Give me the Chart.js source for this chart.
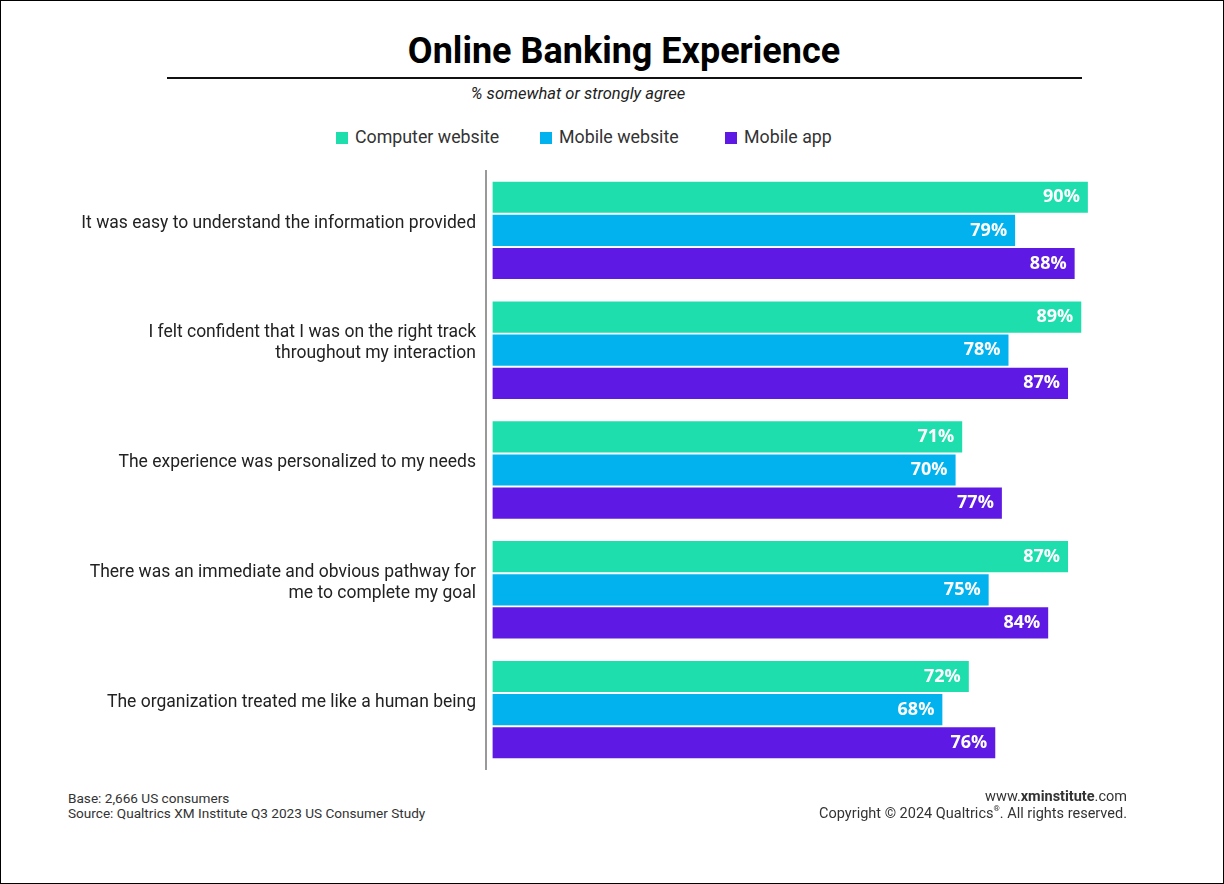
<!DOCTYPE html>
<html>
<head>
<meta charset="utf-8">
<script src="https://cdn.jsdelivr.net/npm/chart.js@4.4.1/dist/chart.umd.min.js"></script>
<style>
  html,body{margin:0;padding:0;background:#fff;}
  body{width:1224px;height:884px;position:relative;overflow:hidden;font-family:Roboto,"Noto Sans",sans-serif;color:#222;}
  .frame{position:absolute;left:0;top:0;width:1222px;height:882px;border:1px solid #000;}
  .title{position:absolute;left:0;width:1248px;top:30px;text-align:center;font-family:Roboto,sans-serif;font-weight:700;font-size:36px;color:#000;}
  .rule{position:absolute;left:167px;top:77px;width:915px;height:2px;background:#111;}
  .sub{position:absolute;left:0;width:1156px;top:84px;text-align:center;font-style:italic;font-size:16.5px;color:#222;}
  .legend{position:absolute;top:126px;left:0;width:1224px;height:24px;font-size:17.8px;color:#333;}
  .legend span{position:absolute;top:0;white-space:nowrap;}
  .legend i{display:inline-block;width:12px;height:12px;margin-right:7px;vertical-align:-1px;}
  .foot{position:absolute;font-size:13.6px;line-height:15px;color:#333;}
  .foot sup{font-size:8px;line-height:0;position:relative;top:-1px;}
  #wrap{position:absolute;left:0;top:150px;width:1224px;height:640px;}
</style>
</head>
<body>
<div class="frame"></div>
<div class="title">Online Banking Experience</div>
<div class="rule"></div>
<div class="sub">% somewhat or strongly agree</div>
<div class="legend" id="legend"></div>
<div id="wrap"><canvas id="chart"></canvas></div>
<div class="foot" style="left:68px;top:791px;">Base: 2,666 US consumers<br>Source: Qualtrics XM Institute Q3 2023 US Consumer Study</div>
<div class="foot" style="right:97px;top:788px;text-align:right;font-size:14.5px;line-height:17px;">www.<b>xminstitute</b>.com<br>Copyright © 2024 Qualtrics<sup>®</sup>. All rights reserved.</div>
<script>
const categories = [
  "It was easy to understand the information provided",
  ["I felt confident that I was on the right track", "throughout my interaction"],
  "The experience was personalized to my needs",
  ["There was an immediate and obvious pathway for", "me to complete my goal"],
  "The organization treated me like a human being"
];
const seriesNames = ["Computer website", "Mobile website", "Mobile app"];
const seriesColors = ["#1fdead", "#02b2ee", "#5e1ae4"];
const computerWebsite = [90, 89, 71, 87, 72];
const mobileWebsite = [79, 78, 70, 75, 68];
const mobileApp = [88, 87, 77, 84, 76];
const seriesValues = [computerWebsite, mobileWebsite, mobileApp];

// legend in html, spaced like the reference
const legendX = [336, 540, 725];
const legend = document.getElementById("legend");
seriesNames.forEach((n, i) => {
  const s = document.createElement("span");
  s.style.left = legendX[i] + "px";
  s.innerHTML = `<i style="background:${seriesColors[i]}"></i>${n}`;
  legend.appendChild(s);
});

const valueLabels = {
  id: "valueLabels",
  afterDatasetsDraw(chart){
    const ctx = chart.ctx;
    ctx.save();
    ctx.font = "bold 18px 'Open Sans', sans-serif";
    ctx.fillStyle = "#fff";
    ctx.textAlign = "right";
    ctx.textBaseline = "middle";
    chart.data.datasets.forEach((ds, di) => {
      chart.getDatasetMeta(di).data.forEach((bar, i) => {
        ctx.fillText(ds.data[i] + "%", bar.x - 8, bar.y);
      });
    });
    ctx.restore();
  }
};

new Chart(document.getElementById("chart"), {
  type: "bar",
  data: {
    labels: categories,
    datasets: seriesValues.map((v, i) => ({
      label: seriesNames[i],
      data: v,
      backgroundColor: seriesColors[i],
      borderWidth: 0,
      categoryPercentage: 0.83,
      barPercentage: 0.94
    }))
  },
  options: {
    indexAxis: "y",
    responsive: true,
    maintainAspectRatio: false,
    animation: false,
    layout: { padding: { left: 0, right: 70, top: 0, bottom: 0 } },
    plugins: { legend: { display: false }, tooltip: { enabled: false } },
    scales: {
      x: {
        min: -1, max: 100,
        display: false,
        grid: { display: false }
      },
      y: {
        grid: { display: false, drawTicks: false },
        border: { display: true, color: "#999", width: 2 },
        ticks: {
          color: "#222",
          font: { family: "Roboto, sans-serif", size: 17.5, lineHeight: 1.2 },
          padding: 10,
          labelOffset: -7
        },
        afterFit(scale){ scale.width = 486; }
      }
    }
  },
  plugins: [valueLabels]
});
</script>
</body>
</html>
